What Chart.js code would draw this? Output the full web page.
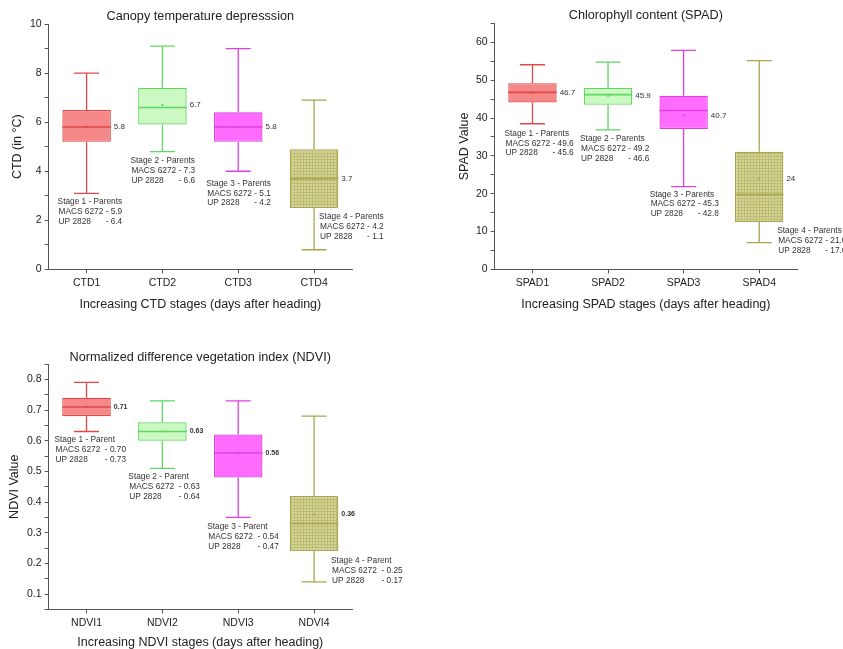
<!DOCTYPE html>
<html>
<head>
<meta charset="utf-8">
<script src="https://cdn.jsdelivr.net/npm/chart.js@4.4.0/dist/chart.umd.min.js"></script>
<style>
body{margin:0;background:#fff;width:843px;height:649px;position:relative;overflow:hidden}
canvas{position:absolute}
</style>
</head>
<body>
<canvas id="ctd" width="420" height="320" style="left:0;top:0"></canvas>
<canvas id="spad" width="423" height="320" style="left:420px;top:0"></canvas>
<canvas id="ndvi" width="420" height="313" style="left:0;top:337px"></canvas>
<script>
// --- data ---
const ctdLabels = ['CTD1','CTD2','CTD3','CTD4'];
const ctdMin  = [3.1, 4.8, 4.0, 0.8];
const ctdQ1   = [5.2, 5.9, 5.2, 2.5];
const ctdMed  = [5.8, 6.6, 5.8, 3.7];
const ctdQ3   = [6.5, 7.4, 6.4, 4.9];
const ctdMax  = [8.0, 9.1, 9.0, 6.9];
const ctdMean = [5.8, 6.7, 5.8, 3.7];
const ctdStage = ['Stage 1 - Parents','Stage 2 - Parents','Stage 3 - Parents','Stage 4 - Parents'];
const ctdMacs = ['5.9','7.3','5.1','4.2'];
const ctdUp   = ['6.4','6.6','4.2','1.1'];

const spadLabels = ['SPAD1','SPAD2','SPAD3','SPAD4'];
const spadMin  = [38.5, 36.9, 21.9, 7.1];
const spadQ1   = [44.1, 43.5, 37.1, 12.5];
const spadMed  = [46.8, 46.2, 42.0, 19.8];
const spadQ3   = [49.2, 48.0, 45.9, 31.1];
const spadMax  = [54.1, 54.8, 57.9, 55.2];
const spadMean = [46.7, 45.9, 40.7, 24];
const spadStage = ['Stage 1 - Parents','Stage 2 - Parents','Stage 3 - Parents','Stage 4 - Parents'];
const spadMacs = ['49.6','49.2','45.3','21.0'];
const spadUp   = ['45.6','46.6','42.8','17.6'];

const ndviLabels = ['NDVI1','NDVI2','NDVI3','NDVI4'];
const ndviMin  = [0.63, 0.51, 0.35, 0.14];
const ndviQ1   = [0.68, 0.60, 0.48, 0.24];
const ndviMed  = [0.71, 0.63, 0.56, 0.33];
const ndviQ3   = [0.74, 0.66, 0.62, 0.42];
const ndviMax  = [0.79, 0.73, 0.73, 0.68];
const ndviMean = [0.71, 0.63, 0.56, 0.36];
const ndviStage = ['Stage 1 - Parent','Stage 2 - Parent','Stage 3 - Parent','Stage 4 - Parent'];
const ndviMacs = ['0.70','0.63','0.54','0.25'];
const ndviUp   = ['0.73','0.64','0.47','0.17'];

const FONT = '"Liberation Sans", Arial, sans-serif';

// olive box gets the fine grid hatch
function gridPattern(){
  const c = document.createElement('canvas'); c.width = 3; c.height = 3;
  const g = c.getContext('2d');
  g.fillStyle = '#d5d598'; g.fillRect(0,0,3,3);
  g.fillStyle = '#bcbc72'; g.fillRect(0,0,3,1); g.fillRect(0,0,1,3);
  return g.createPattern(c,'repeat');
}
const fills   = ['#f58888','#ccf8c4','#ff6cff',gridPattern()];
const borders = ['#e04848','#5ed85e','#e040e0','#a6a64e'];

const boxPlot = {
  id:'boxPlot',
  beforeDatasetsDraw(chart, args, o){
    const {ctx, scales:{x,y}} = chart;
    ctx.save();
    ctx.lineWidth = 1.3;
    o.min.forEach((v,i)=>{
      const cx = x.getPixelForValue(i), cw = o.cap/2;
      const yMax = y.getPixelForValue(o.max[i]), yMin = y.getPixelForValue(v);
      ctx.strokeStyle = borders[i];
      ctx.beginPath();
      ctx.moveTo(cx, yMax); ctx.lineTo(cx, y.getPixelForValue(o.q3[i]));
      ctx.moveTo(cx, y.getPixelForValue(o.q1[i])); ctx.lineTo(cx, yMin);
      ctx.moveTo(cx-cw, yMax); ctx.lineTo(cx+cw, yMax);
      ctx.moveTo(cx-cw, yMin); ctx.lineTo(cx+cw, yMin);
      ctx.stroke();
    });
    ctx.restore();
  },
  afterDatasetsDraw(chart, args, o){
    const {ctx, chartArea, scales:{x,y}} = chart;
    const meta = chart.getDatasetMeta(0);
    ctx.save();
    o.med.forEach((m,i)=>{
      const bar = meta.data[i].getProps(['x','width'], true);
      const ym = y.getPixelForValue(m);
      ctx.strokeStyle = borders[i]; ctx.lineWidth = 1.6;
      ctx.beginPath(); ctx.moveTo(bar.x-bar.width/2, ym); ctx.lineTo(bar.x+bar.width/2, ym); ctx.stroke();
      // mean marker + label
      const ya = y.getPixelForValue(o.mean[i]);
      ctx.fillStyle = borders[i];
      ctx.fillRect(bar.x-1, ya-1, 2, 2);
      ctx.fillStyle = '#333';
      ctx.font = o.meanFont;
      ctx.textAlign = 'left'; ctx.textBaseline = 'middle';
      ctx.fillText(String(o.mean[i]), bar.x+bar.width/2+3, ya);
    });
    // parent notes
    ctx.font = '8.3px ' + FONT;
    ctx.fillStyle = '#333';
    o.stage.forEach((s,i)=>{
      const [dx, vy] = o.notePos[i];
      const lx = x.getPixelForValue(i)+dx, ly = y.getPixelForValue(vy), lh = 9.8;
      ctx.textAlign = 'left';
      ctx.fillText(s, lx, ly);
      const line = 'MACS 6272' + o.sep + '- ' + o.macs[i];
      ctx.fillText(line, lx+1, ly+lh);
      const w = ctx.measureText(line).width;
      ctx.fillText('UP 2828', lx+1, ly+2*lh);
      ctx.textAlign = 'right';
      ctx.fillText('- ' + o.up[i], lx+1+w, ly+2*lh);
    });
    // panel title centred over the plot area
    ctx.font = '12.7px ' + FONT;
    ctx.fillStyle = '#222';
    ctx.textAlign = 'center';
    ctx.fillText(o.title, (chartArea.left+chartArea.right)/2, o.titleY);
    ctx.restore();
  }
};

function makeChart(id, p){
  const majorOnly = v => (Math.abs(v/p.major - Math.round(v/p.major)) < 1e-6 && v >= p.firstLabel) ? p.fmt(v) : '';
  return new Chart(document.getElementById(id), {
    type:'bar',
    data:{
      labels:p.labels,
      datasets:[{
        data:p.q1.map((v,i)=>[v,p.q3[i]]),
        backgroundColor:fills, borderColor:borders, borderWidth:1.3,
        borderSkipped:false, barPercentage:0.64, categoryPercentage:1
      }]
    },
    options:{
      responsive:false, animation:false,
      layout:{padding:p.pad},
      plugins:{
        legend:{display:false}, tooltip:{enabled:false}, title:{display:false},
        boxPlot:{min:p.min,q1:p.q1,q3:p.q3,max:p.max,med:p.med,mean:p.mean,cap:25,
          stage:p.stage,macs:p.macs,up:p.up,notePos:p.notePos,sep:p.sep,meanFont:p.meanFont,
          title:p.title,titleY:p.titleY}
      },
      scales:{
        x:{
          grid:{drawOnChartArea:false, offset:false, tickLength:4, color:'#555'},
          border:{color:'#555', width:1},
          ticks:{color:'#222', font:{family:FONT,size:10.5}, padding:3},
          title:{display:true, text:p.xTitle, color:'#222', font:{family:FONT,size:12.5}, padding:{top:p.xTitleGap,bottom:0}}
        },
        y:{
          min:p.yMin, max:p.yMax,
          grid:{drawOnChartArea:false, tickLength:4, color:'#555'},
          border:{color:'#555', width:1},
          ticks:{stepSize:p.step, autoSkip:false, color:'#222', font:{family:FONT,size:10.5}, padding:3, callback:majorOnly},
          title:{display:true, text:p.yTitle, color:'#222', font:{family:FONT,size:12.5}, padding:{top:0,bottom:p.yTitleGap}}
        }
      }
    },
    plugins:[boxPlot]
  });
}

makeChart('ctd', {
  labels:ctdLabels, min:ctdMin, q1:ctdQ1, med:ctdMed, q3:ctdQ3, max:ctdMax, mean:ctdMean,
  stage:ctdStage, macs:ctdMacs, up:ctdUp, sep:' ', meanFont:'8px '+FONT,
  notePos:[[-29,2.75],[-32,4.43],[-32,3.5],[5,2.14]],
  title:'Canopy temperature depresssion', titleY:16.5,
  xTitle:'Increasing CTD stages (days after heading)', yTitle:'CTD (in °C)', yTitleGap:2, xTitleGap:5,
  yMin:0, yMax:10, step:1, major:2, firstLabel:0, fmt:v=>String(v),
  pad:{left:10,right:68,top:24,bottom:8}
});

makeChart('spad', {
  labels:spadLabels, min:spadMin, q1:spadQ1, med:spadMed, q3:spadQ3, max:spadMax, mean:spadMean,
  stage:spadStage, macs:spadMacs, up:spadUp, sep:' ', meanFont:'8px '+FONT,
  notePos:[[-28,35.9],[-28,34.5],[-34,19.85],[18,10.1]],
  title:'Chlorophyll content (SPAD)', titleY:15.5,
  xTitle:'Increasing SPAD stages (days after heading)', yTitle:'SPAD Value', yTitleGap:1, xTitleGap:5,
  yMin:0, yMax:65, step:5, major:10, firstLabel:0, fmt:v=>String(v),
  pad:{left:37,right:46,top:23.5,bottom:8}
});

makeChart('ndvi', {
  labels:ndviLabels, min:ndviMin, q1:ndviQ1, med:ndviMed, q3:ndviQ3, max:ndviMax, mean:ndviMean,
  stage:ndviStage, macs:ndviMacs, up:ndviUp, sep:'  ', meanFont:'bold 7px '+FONT,
  notePos:[[-32,0.603],[-34,0.482],[-31,0.318],[17,0.209]],
  title:'Normalized difference vegetation index (NDVI)', titleY:20.5,
  xTitle:'Increasing NDVI stages (days after heading)', yTitle:'NDVI Value', yTitleGap:2, xTitleGap:3,
  yMin:0.05, yMax:0.85, step:0.05, major:0.1, firstLabel:0.099, fmt:v=>v.toFixed(1),
  pad:{left:7,right:68,top:27,bottom:0}
});
</script>
</body>
</html>
